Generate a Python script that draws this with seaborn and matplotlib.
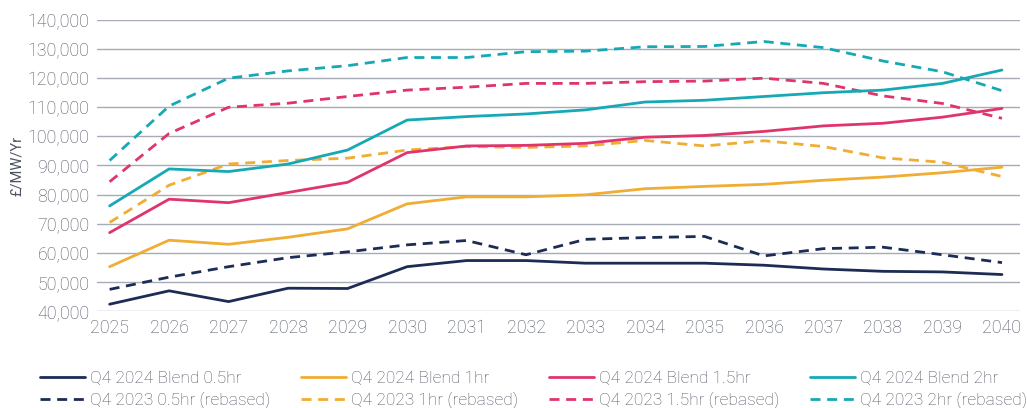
import matplotlib
matplotlib.use("Agg")
import matplotlib.pyplot as plt
import seaborn as sns
import pandas as pd
from matplotlib.ticker import FuncFormatter

years = list(range(2025, 2041))

blend_05 = [42300, 46900, 43200, 47800, 47700, 55200, 57300, 57300, 56400, 56400, 56400, 55700, 54400, 53600, 53400, 52500]
blend_1 = [55200, 64300, 62900, 65300, 68200, 76800, 79200, 79200, 79900, 82000, 82800, 83500, 84900, 86000, 87500, 89400]
blend_15 = [66900, 78400, 77200, 80700, 84200, 94400, 96700, 96900, 97600, 99700, 100300, 101700, 103600, 104500, 106600, 109600]
blend_2 = [76100, 88800, 87900, 90500, 95300, 105600, 106800, 107700, 109100, 111800, 112400, 113700, 115000, 115900, 118200, 122800]

reb_05 = [47400, 51600, 55200, 58300, 60300, 62700, 64200, 59300, 64600, 65200, 65600, 58900, 61400, 61900, 59300, 56600]
reb_1 = [70400, 83200, 90500, 91700, 92500, 95300, 96500, 96200, 96700, 98600, 96700, 98500, 96500, 92600, 91100, 86200]
reb_15 = [84400, 101000, 110000, 111400, 113700, 115900, 116900, 118200, 118200, 118800, 119000, 120000, 118200, 113900, 111300, 106200]
reb_2 = [91700, 110400, 120000, 122500, 124300, 127100, 127100, 129100, 129300, 130800, 130900, 132600, 130500, 125900, 122200, 115700]

series_names = [
    "Q4 2024 Blend 0.5hr", "Q4 2023 0.5hr (rebased)",
    "Q4 2024 Blend 1hr", "Q4 2023 1hr (rebased)",
    "Q4 2024 Blend 1.5hr", "Q4 2023 1.5hr (rebased)",
    "Q4 2024 Blend 2hr", "Q4 2023 2hr (rebased)",
]
series_values = [blend_05, reb_05, blend_1, reb_1, blend_15, reb_15, blend_2, reb_2]
colors = ["#1d2c55", "#1d2c55", "#f0ad33", "#f0ad33", "#e0356c", "#e0356c", "#16a9b5", "#16a9b5"]

sns.set_style("white")
plt.rcParams["font.family"] = ["Roboto", "DejaVu Sans"]
plt.rcParams["font.weight"] = "light"

fig = plt.figure(figsize=(10.27, 4.08), dpi=100)
ax = fig.add_axes([0.094, 0.238, 0.899, 0.713])

rows = []
for name, vals in zip(series_names, series_values):
    for y, v in zip(years, vals):
        rows.append({"year": y, "value": v, "series": name})
df = pd.DataFrame(rows)

handles = []
for name, col in zip(series_names, colors):
    dashed = "rebased" in name
    sub = df[df["series"] == name]
    sns.lineplot(data=sub, x="year", y="value", ax=ax, color=col, linewidth=2.0,
                 label=name, legend=False)
    line = ax.lines[-1]
    if dashed:
        line.set_dashes((3.6, 2.4))
    handles.append(line)

ax.set_xlim(2024.78, 2040.3)
ax.set_ylim(40000, 140000)
ax.set_yticks(range(40000, 140001, 10000))
ax.set_xticks(years)
ax.yaxis.set_major_formatter(FuncFormatter(lambda v, p: f"{int(v):,}"))
ax.grid(axis="y", color="#a6abb6", linewidth=1.0)
ax.set_axisbelow(True)
for s in ax.spines.values():
    s.set_visible(False)
ax.tick_params(axis="both", length=0, labelsize=12.8, labelcolor="#4f5462")
ax.tick_params(axis="x", pad=6)
ax.tick_params(axis="y", pad=5)
ax.set_xlabel("")
ax.set_ylabel("£/MW/Yr", fontsize=10.5, color="#4f5462", labelpad=3)

leg = fig.legend(handles=handles, labels=series_names, ncol=4, loc="lower left",
                 bbox_to_anchor=(0.039, -0.003), frameon=False, fontsize=12.5,
                 handlelength=2.6, columnspacing=1.75, handletextpad=0.3,
                 labelspacing=0.35, borderpad=0, borderaxespad=0)
for t in leg.get_texts():
    t.set_color("#4f5462")

fig.savefig("out.png", dpi=100)
